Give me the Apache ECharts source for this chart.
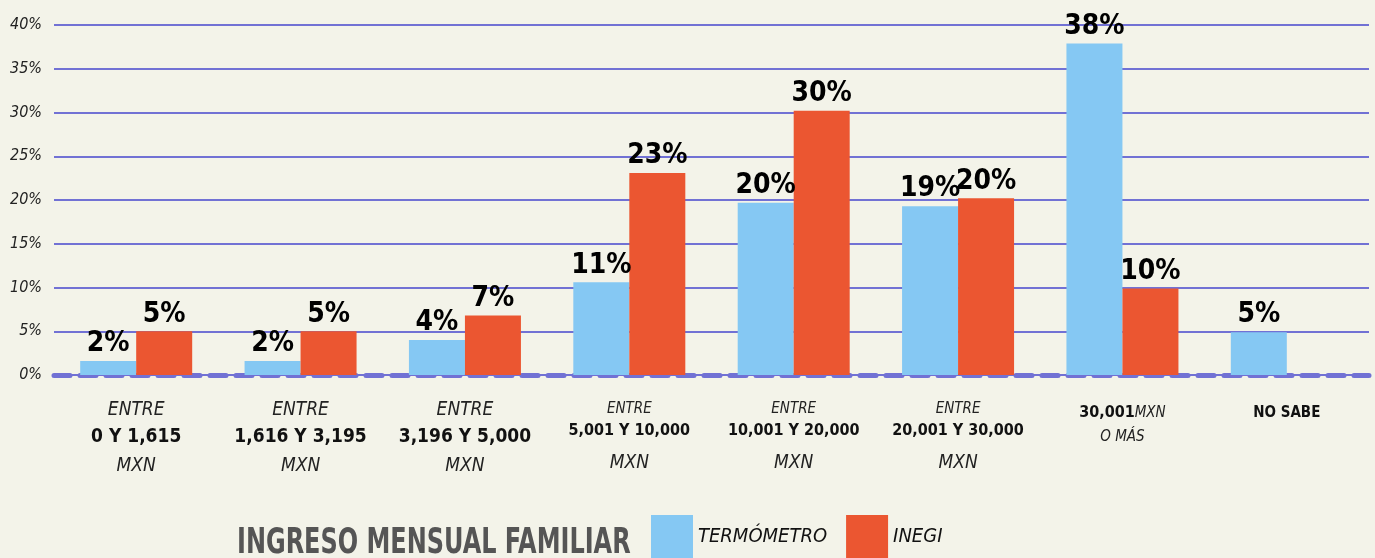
<!DOCTYPE html>
<html>
<head>
<meta charset="utf-8">
<script src="https://cdn.jsdelivr.net/npm/echarts@6/dist/echarts.min.js"></script>
<style>
  html, body { margin: 0; padding: 0; background: #f3f3e9; }
  #chart { width: 1375px; height: 558px; }
</style>
</head>
<body>
<div id="chart"></div>
<script>
// categories (line breaks as printed under each pair of bars)
var categories = [
  'ENTRE\n0 Y 1,615\nMXN',
  'ENTRE\n1,616 Y 3,195\nMXN',
  'ENTRE\n3,196 Y 5,000\nMXN',
  'ENTRE\n5,001 Y 10,000\nMXN',
  'ENTRE\n10,001 Y 20,000\nMXN',
  'ENTRE\n20,001 Y 30,000\nMXN',
  '30,001 MXN\nO MÁS',
  'NO SABE'
];
var termometro = [1.6, 1.6, 4.0, 10.6, 19.7, 19.3, 37.9, 4.9];
var inegi = [5.0, 5.0, 6.8, 23.1, 30.2, 20.2, 9.9, null];
var yTicks = [0, 5, 10, 15, 20, 25, 30, 35, 40];

var FONT = '"DejaVu Sans Condensed", "Liberation Sans Narrow", sans-serif';
var BLUE = '#85c8f3';
var RED = '#eb5631';
var LINE = '#7171d4';

var chart = echarts.init(document.getElementById('chart'));

function catLabel(value, idx) {
  var parts = value.split('\n');
  if (idx < 3) {
    return '{e|' + parts[0] + '}\n{n|' + parts[1] + '}\n{m|' + parts[2] + '}';
  }
  if (idx < 6) {
    return '{es|' + parts[0] + '}\n{ns|' + parts[1] + '}\n{ms|' + parts[2] + '}';
  }
  if (idx === 6) {
    var first = parts[0].split(' ');
    return '{nt|' + first[0] + '}{et|' + first[1] + '}\n{os|' + parts[1] + '}';
  }
  return '{nb|' + value + '}';
}

var barLabel = {
  show: true,
  position: 'top',
  distance: 3,
  fontFamily: FONT,
  fontWeight: 'bold',
  fontSize: 28,
  color: '#000',
  formatter: function (p) { return Math.round(p.value) + '%'; }
};

chart.setOption({
  backgroundColor: '#f3f3e9',
  graphic: [{
    type: 'text',
    left: 237,
    top: 526,
    scaleX: 0.74,
    style: {
      text: 'INGRESO MENSUAL FAMILIAR',
      font: 'bold 36px ' + FONT,
      fill: '#555555'
    }
  }],
  legend: {
    left: 646,
    top: 510,
    itemWidth: 42,
    itemHeight: 44,
    itemGap: 19,
    icon: 'rect',
    textStyle: { fontFamily: FONT, fontStyle: 'italic', fontSize: 20, color: '#111', padding: [26, 0, 0, 0] },
    data: ['TERMÓMETRO', 'INEGI']
  },
  grid: { left: 54, right: 6, top: 25, bottom: 183 },
  xAxis: {
    type: 'category',
    data: categories,
    axisTick: { show: false },
    axisLine: {
      show: true,
      lineStyle: { color: LINE, width: 5, type: [16, 10], cap: 'round' }
    },
    axisLabel: {
      margin: 22,
      interval: 0,
      verticalAlign: 'top',
      color: '#111',
      fontFamily: FONT,
      formatter: catLabel,
      rich: {
        e: { fontFamily: FONT, fontStyle: 'italic', fontSize: 19, color: '#222', lineHeight: 27 },
        n: { fontFamily: FONT, fontWeight: 'bold', fontSize: 19, color: '#111', lineHeight: 27 },
        m: { fontFamily: FONT, fontStyle: 'italic', fontSize: 19, color: '#222', lineHeight: 30 },
        es: { fontFamily: FONT, fontStyle: 'italic', fontSize: 15, color: '#222', lineHeight: 25 },
        ns: { fontFamily: FONT, fontWeight: 'bold', fontSize: 16, color: '#111', lineHeight: 18 },
        ms: { fontFamily: FONT, fontStyle: 'italic', fontSize: 19, color: '#222', lineHeight: 46 },
        nt: { fontFamily: FONT, fontWeight: 'bold', fontSize: 16, color: '#111', lineHeight: 32 },
        et: { fontFamily: FONT, fontStyle: 'italic', fontSize: 15, color: '#222', lineHeight: 32 },
        os: { fontFamily: FONT, fontStyle: 'italic', fontSize: 15, color: '#222', lineHeight: 16 },
        nb: { fontFamily: FONT, fontWeight: 'bold', fontSize: 15, color: '#111', lineHeight: 32 }
      }
    }
  },
  yAxis: {
    type: 'value',
    min: yTicks[0],
    max: yTicks[yTicks.length - 1],
    interval: 5,
    axisLine: { show: false },
    axisTick: { show: false },
    axisLabel: {
      margin: 12,
      fontFamily: FONT,
      fontStyle: 'italic',
      fontSize: 16,
      color: '#222',
      formatter: '{value}%'
    },
    splitLine: { lineStyle: { color: LINE, width: 2 } }
  },
  series: [
    {
      name: 'TERMÓMETRO',
      type: 'bar',
      data: termometro,
      barWidth: 56,
      barGap: '0%',
      itemStyle: { color: BLUE },
      label: barLabel
    },
    {
      name: 'INEGI',
      type: 'bar',
      data: inegi,
      barWidth: 56,
      barGap: '0%',
      itemStyle: { color: RED },
      label: barLabel
    }
  ]
});
</script>
</body>
</html>
